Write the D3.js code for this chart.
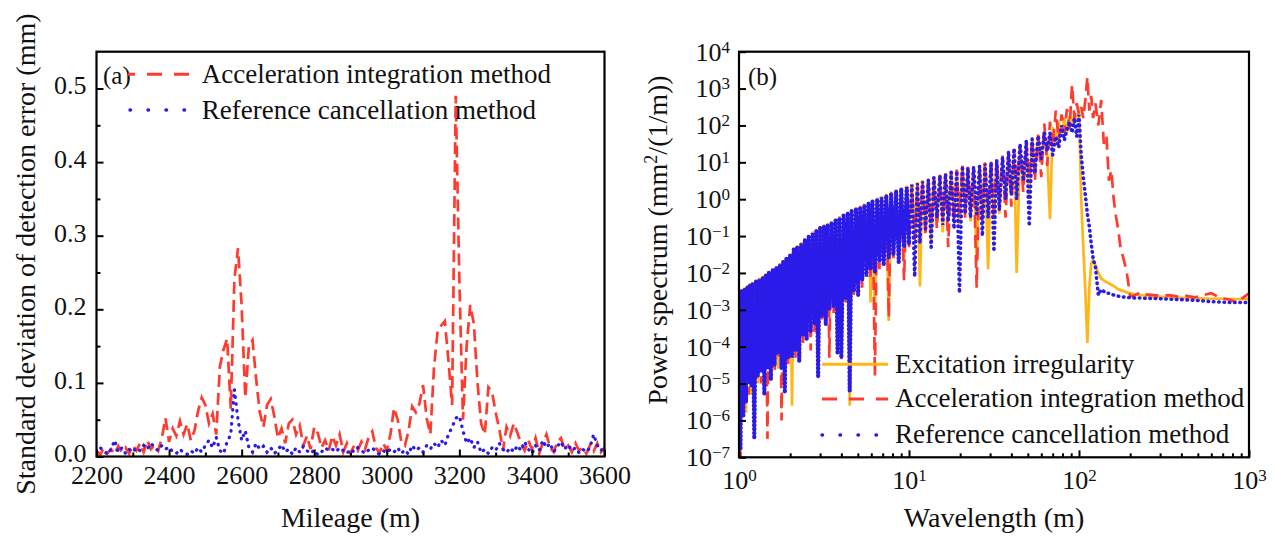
<!DOCTYPE html>
<html>
<head>
<meta charset="utf-8">
<script src="https://cdn.jsdelivr.net/npm/d3@7"></script>
<style>
  body { margin: 0; background: #fff; }
  svg text { font-family: "Liberation Serif", "Times New Roman", serif; fill: #111; }
</style>
</head>
<body>
<div id="chart"></div>
<script>

// ---- panel (a): std of detection error vs mileage (sampled every 10 m) ----
var mileageStart = 2200, mileageEnd = 3600, mileageStep = 10;

var accelStd = [
  0.008,0.002,0.012,0.004,0.010,0.003,0.014,0.006,0.012,0.004,
  0.015,0.008,0.018,0.006,0.022,0.010,0.016,0.008,0.025,0.052,
  0.020,0.038,0.028,0.048,0.030,0.044,0.022,0.035,0.062,0.080,
  0.070,0.045,0.058,0.030,0.122,0.145,0.160,0.065,0.240,0.283,
  0.205,0.080,0.150,0.158,0.105,0.060,0.040,0.070,0.078,0.055,
  0.025,0.038,0.018,0.045,0.050,0.030,0.042,0.015,0.028,0.010,
  0.040,0.032,0.012,0.022,0.008,0.028,0.015,0.030,0.006,0.018,
  0.004,0.015,0.008,0.020,0.010,0.026,0.034,0.012,0.005,0.018,
  0.008,0.030,0.066,0.050,0.020,0.015,0.035,0.068,0.060,0.072,
  0.097,0.052,0.030,0.120,0.170,0.178,0.184,0.130,0.070,0.490,
  0.240,0.050,0.150,0.206,0.180,0.100,0.045,0.030,0.094,0.088,
  0.060,0.038,0.008,0.040,0.028,0.045,0.032,0.018,0.008,0.022,
  0.010,0.025,0.004,0.018,0.030,0.012,0.006,0.020,0.025,0.010,
  0.015,0.006,0.018,0.008,0.012,0.004,0.015,0.007,0.018,0.006,
  0.012
];

var refStd = [
  0.005,0.012,0.008,0.003,0.010,0.022,0.006,0.012,0.004,0.010,
  0.006,0.012,0.008,0.015,0.010,0.018,0.012,0.008,0.015,0.010,
  0.013,0.006,0.004,0.010,0.005,0.003,0.008,0.004,0.012,0.006,
  0.015,0.022,0.012,0.026,0.008,0.004,0.020,0.030,0.091,0.050,
  0.022,0.035,0.012,0.006,0.018,0.010,0.014,0.006,0.012,0.004,
  0.009,0.016,0.006,0.010,0.003,0.012,0.006,0.014,0.008,0.004,
  0.009,0.002,0.006,0.012,0.008,0.010,0.006,0.012,0.008,0.004,
  0.010,0.006,0.012,0.008,0.004,0.009,0.012,0.006,0.003,0.008,
  0.005,0.010,0.006,0.012,0.004,0.009,0.003,0.015,0.008,0.012,
  0.006,0.015,0.010,0.018,0.012,0.022,0.015,0.030,0.040,0.052,
  0.055,0.035,0.018,0.025,0.012,0.020,0.005,0.010,0.004,0.012,
  0.008,0.018,0.010,0.005,0.012,0.006,0.015,0.008,0.020,0.010,
  0.004,0.015,0.008,0.022,0.012,0.018,0.006,0.014,0.020,0.010,
  0.016,0.008,0.012,0.005,0.010,0.006,0.012,0.030,0.015,0.008,
  0.014
];

var yTicksA = [0, 0.1, 0.2, 0.3, 0.4, 0.5];
var xTicksA = [2200, 2400, 2600, 2800, 3000, 3200, 3400, 3600];

// ---- panel (b): power spectra, values stored as log10(mm^2/(1/m)) ----
var wavelength = [
  1.00,1.02,1.04,1.06,1.08,1.10,1.12,1.14,1.16,1.18,1.20,1.23,1.26,1.29,1.32,1.35,1.38,1.41,1.44,1.47,
  1.50,1.54,1.58,1.62,1.66,1.70,1.74,1.78,1.82,1.86,1.90,1.95,2.00,
  2.05,2.10,2.15,2.20,2.26,2.32,2.38,2.44,2.50,2.57,2.64,2.71,2.78,2.85,2.92,3.00,3.08,3.16,3.24,3.32,
  3.40,3.50,3.60,3.70,3.80,3.90,4.00,4.12,4.24,4.36,4.48,4.60,4.74,4.88,5.02,5.16,5.30,5.46,5.62,5.78,
  5.94,6.10,6.30,6.50,6.70,6.90,7.10,7.35,7.60,7.85,8.10,8.40,8.70,9.00,9.35,9.70,10.0,
  10.4,10.8,11.2,11.6,12.0,12.5,13.0,13.5,14.0,14.6,15.2,15.8,16.4,17.0,17.7,18.4,19.1,19.8,20.6,21.4,
  22.2,23.0,24.0,25.0,26.0,27.0,28.0,29.2,30.4,31.6,32.8,34.0,35.5,37.0,38.5,40.0,41.5,43.0,45.0,47.0,
  49.0,51.0,53.0,55.0,57.5,60.0,62.5,65.0,67.5,70.0,73.0,76.0,79.0,82.0,85.0,88.0,91.0,94.0,97.0,100,
  103,106,109,112,115,118,121,125,130,135,140,145,150,155,160,165,170,175,180,190,
  200,215,230,250,275,300,340,380,430,480,540,600,680,760,850,1000
];

var excitationLog = [
  -2.47,-6.0,-2.43,-5.2,-2.39,-5.8,-2.33,-4.9,-2.28,-5.3,-2.24,-4.8,-2.19,-5.0,-2.13,-4.6,-2.07,-4.9,-2.01,-4.5,
  -1.95,-4.7,-1.88,-4.3,-1.81,-4.6,-1.73,-4.2,-1.65,-4.4,-1.57,-4.1,-1.47,
  -5.6,-1.31,-4.0,-1.25,-3.8,-1.16,-3.6,-1.06,-3.7,-0.97,-3.5,-0.88,-3.3,-0.80,-3.4,-0.74,-3.1,-0.68,-3.0,-0.64,
  -3.2,-0.60,-2.8,-0.53,-2.9,-0.46,-2.7,-0.40,-2.6,-0.34,-5.6,-0.28,-2.4,-0.22,-2.3,-0.17,-2.1,-0.12,-2.0,-0.07,
  -2.8,-0.02,-2.9,0.04,-1.6,0.09,-1.7,0.15,-3.3,0.21,-1.4,0.27,-1.3,0.32,-1.6,0.37,-1.1,
  0.42,-0.9,0.46,-2.37,0.51,-0.7,0.56,-1.2,0.61,-0.6,0.66,-0.9,0.71,-0.5,0.75,-0.4,0.79,-0.7,0.89,-0.3,
  0.87,-0.6,0.89,-1.7,0.93,-0.3,0.98,-1.9,1.03,-0.2,1.09,-0.4,1.16,-0.1,1.26,0.2,1.31,-2.0,1.41,0.4,
  1.51,0.1,1.61,0.8,1.71,1.0,1.86,1.2,-0.54,1.95,1.5,2.10,1.7,2.20,1.8,2.25,2.0,2.30,2.1,2.42,
  0.0,-1.3,-2.5,-3.9,-2.4,-1.75,-1.64,-1.8,-2.0,-2.15,-2.2,-2.25,-2.28,-2.32,-2.36,-2.4,-2.44,-2.46,-2.48,-2.52,
  -2.55,-2.58,-2.6,-2.62,-2.64,-2.65,-2.66,-2.67,-2.68,-2.69,-2.69,-2.7,-2.7,-2.71,-2.71,-2.71
];

var accelLog = [
  -2.50,-7.3,-2.45,-5.6,-2.41,-5.2,-2.36,-5.3,-2.31,-4.8,-2.26,-5.4,-2.21,-4.7,-2.15,-5.0,-2.09,-4.6,-2.03,-6.5,
  -1.97,-4.4,-1.90,-4.7,-1.83,-4.3,-1.75,-6.0,-1.67,-4.1,-1.59,-4.5,-1.49,
  -4.1,-1.35,-4.3,-1.28,-4.0,-1.19,-3.9,-1.09,-3.5,-1.00,-4.1,-0.91,-3.6,-0.83,-4.6,-0.77,-3.3,-0.71,-3.2,-0.67,
  -4.3,-0.63,-3.1,-0.56,-2.7,-0.49,-4.4,-0.43,-2.8,-0.37,-3.0,-0.31,-2.6,-0.25,-2.1,-0.20,-2.4,-0.15,-1.8,-0.10,
  -2.1,-0.05,-4.8,0.01,-1.9,0.06,-1.5,0.12,-3.2,0.18,-1.6,0.24,-1.4,0.29,-2.2,0.34,-1.3,
  0.40,-1.1,0.44,-0.6,0.50,-1.0,0.55,-0.9,0.60,-0.8,0.66,-0.5,0.71,-1.3,0.75,-0.6,0.80,-0.4,0.92,-0.5,
  0.88,-0.3,0.90,-2.4,0.95,-0.6,1.00,-0.4,1.05,-0.5,1.10,-0.1,1.18,-0.5,1.28,-0.2,1.35,0.3,1.45,0.2,
  1.55,0.6,1.65,0.5,1.75,0.6,2.05,0.9,2.10,1.4,2.40,1.6,2.30,1.8,2.45,1.9,3.10,2.2,2.60,2.3,
  2.5,2.2,2.7,3.32,2.4,2.8,2.2,2.6,2.0,2.69,1.5,1.7,0.5,0.79,0.0,-0.47,-0.8,-1.28,-1.5,-1.92,
  -2.64,-2.6,-2.52,-2.58,-2.6,-2.62,-2.6,-2.64,-2.62,-2.66,-2.6,-2.55,-2.68,-2.72,-2.8,-2.55
];

var refLog = [
  -2.52,-6.8,-2.48,-5.9,-2.44,-5.5,-2.38,-5.0,-2.33,-5.1,-2.28,-6.5,-2.23,-4.8,-2.17,-4.7,-2.11,-5.3,-2.05,-4.6,
  -1.99,-4.9,-1.92,-4.5,-1.85,-4.2,-1.77,-4.6,-1.69,-5.25,-1.61,-4.3,-1.51,
  -4.3,-1.36,-4.1,-1.29,-4.4,-1.20,-3.7,-1.10,-3.8,-1.01,-3.6,-0.92,-3.4,-0.84,-4.8,-0.78,-3.2,-0.72,-3.4,-0.68,
  -3.0,-0.64,-2.9,-0.57,-4.2,-0.50,-4.3,-0.44,-2.7,-0.38,-5.2,-0.32,-2.5,-0.26,-2.6,-0.21,-2.2,-0.16,-2.1,-0.11,
  -1.9,-0.06,-2.0,0.00,-1.7,0.05,-1.8,0.11,-1.6,0.17,-1.5,0.23,-1.7,0.28,-1.3,0.33,-1.2,
  0.39,-2.1,0.43,-1.2,0.48,-0.8,0.53,-1.3,0.59,-0.5,0.64,-0.7,0.69,-0.6,0.73,-0.8,0.77,-2.54,0.90,-0.4,
  0.85,-0.5,0.87,-0.4,0.90,-1.0,0.96,-0.5,1.00,-1.42,1.06,-0.3,1.14,0.0,1.30,0.1,1.38,0.0,1.50,0.5,
  1.60,-0.73,1.63,0.7,1.72,1.1,1.80,1.3,1.80,1.2,1.70,1.4,2.00,1.6,1.90,2.1,1.80,2.2,1.70,2.29,
  1.2,0.6,0.1,-0.4,-0.74,-1.2,-1.6,-1.85,-2.6,-2.45,-2.5,-2.55,-2.55,-2.58,-2.6,-2.62,-2.63,-2.64,-2.65,-2.66,
  -2.67,-2.68,-2.68,-2.69,-2.69,-2.7,-2.71,-2.72,-2.73,-2.74,-2.76,-2.78,-2.79,-2.8,-2.8,-2.8
];

var xTicksB = [1, 10, 100, 1000];
var yTicksB = [1e-7, 1e-6, 1e-5, 1e-4, 1e-3, 1e-2, 1e-1, 1, 1e1, 1e2, 1e3, 1e4];

var colors = { excitation: "#ffb617", accel: "#ff3a2f", ref: "#2b1be8" };

var svg = d3.select("#chart").append("svg")
    .attr("width", 1277)
    .attr("height", 537);

function styleAxis(g, size) {
    g.attr("font-family", null).attr("font-size", null);
    g.select(".domain").remove();
    g.selectAll(".tick line").attr("stroke", "#000").attr("stroke-width", 2);
    g.selectAll("text").attr("font-size", size).attr("fill", "#111");
}

// "10^n" labels with a raised exponent
function powLabel(d) {
    var e = Math.round(Math.log10(d));
    var t = d3.select(this).text(null);
    t.append("tspan").text("10");
    t.append("tspan").attr("font-size", 17).attr("dy", -8)
        .text(e < 0 ? "\u2212" + (-e) : e);
}

/*
 *  Panel (a)
 */
var pa = { left: 96.5, right: 604.5, top: 51.7, bottom: 456.5 };

var xA = d3.scaleLinear().domain([mileageStart, mileageEnd]).range([pa.left, pa.right]);
var yA = d3.scaleLinear().domain([0, 0.55]).range([pa.bottom, pa.top]);

svg.append("clipPath").attr("id", "clipA").append("rect")
    .attr("x", pa.left).attr("y", pa.top)
    .attr("width", pa.right - pa.left).attr("height", pa.bottom - pa.top);

var lineA = d3.line()
    .x(function(d, i) { return xA(mileageStart + i * mileageStep); })
    .y(function(d) { return yA(d); });

var plotA = svg.append("g").attr("clip-path", "url(#clipA)");

plotA.append("path").datum(accelStd)
    .attr("d", lineA).attr("fill", "none")
    .attr("stroke", colors.accel).attr("stroke-width", 2.7)
    .attr("stroke-dasharray", "12,6");

plotA.append("path").datum(refStd)
    .attr("d", lineA).attr("fill", "none")
    .attr("stroke", colors.ref).attr("stroke-width", 3.2)
    .attr("stroke-linecap", "round")
    .attr("stroke-dasharray", "0.5,6.5");

// axes (ticks inside)
var gxA = svg.append("g").attr("transform", "translate(0," + pa.bottom + ")")
    .call(d3.axisBottom(xA).tickValues(xTicksA).tickSize(-7).tickPadding(9).tickFormat(d3.format("d")));
styleAxis(gxA, 26);

var gxAm = svg.append("g").attr("transform", "translate(0," + pa.bottom + ")")
    .call(d3.axisBottom(xA).tickValues(d3.range(2300, 3600, 200)).tickSize(-4).tickFormat(""));
styleAxis(gxAm, 26);

var gyA = svg.append("g").attr("transform", "translate(" + pa.left + ",0)")
    .call(d3.axisLeft(yA).tickValues(yTicksA).tickSize(-7).tickPadding(10).tickFormat(d3.format(".1f")));
styleAxis(gyA, 26);
gyA.selectAll("text").attr("dy", "0.21em");

var gyAm = svg.append("g").attr("transform", "translate(" + pa.left + ",0)")
    .call(d3.axisLeft(yA).tickValues([0.05, 0.15, 0.25, 0.35, 0.45]).tickSize(-4).tickFormat(""));
styleAxis(gyAm, 26);

svg.append("rect")
    .attr("x", pa.left).attr("y", pa.top)
    .attr("width", pa.right - pa.left).attr("height", pa.bottom - pa.top)
    .attr("fill", "none").attr("stroke", "#000").attr("stroke-width", 2.2);

svg.append("text")
    .attr("x", (pa.left + pa.right) / 2).attr("y", 527)
    .attr("text-anchor", "middle").attr("font-size", 28)
    .text("Mileage (m)");

svg.append("text")
    .attr("transform", "translate(35," + ((pa.top + pa.bottom) / 2) + ") rotate(-90)")
    .attr("text-anchor", "middle").attr("font-size", 28)
    .text("Standard deviation of detection error (mm)");

// legend (a)
svg.append("text").attr("x", 103).attr("y", 84).attr("font-size", 25).text("(a)");

svg.append("line")
    .attr("x1", 128).attr("x2", 198).attr("y1", 74.3).attr("y2", 74.3)
    .attr("stroke", colors.accel).attr("stroke-width", 3)
    .attr("stroke-dasharray", "15,12").attr("stroke-dashoffset", 8);
svg.append("text").attr("x", 201.7).attr("y", 83.3).attr("font-size", 27)
    .text("Acceleration integration method");

svg.append("line")
    .attr("x1", 130).attr("x2", 187).attr("y1", 110).attr("y2", 110)
    .attr("stroke", colors.ref).attr("stroke-width", 3.5)
    .attr("stroke-linecap", "round").attr("stroke-dasharray", "0.5,17.5");
svg.append("text").attr("x", 201.7).attr("y", 119).attr("font-size", 27)
    .text("Reference cancellation method");

/*
 *  Panel (b)
 */
var pb = { left: 739, right: 1249, top: 51.7, bottom: 457.3 };

var xB = d3.scaleLog().domain([1, 1000]).range([pb.left, pb.right]);
var yB = d3.scaleLog().domain([1e-7, 1e4]).range([pb.bottom, pb.top]);

svg.append("clipPath").attr("id", "clipB").append("rect")
    .attr("x", pb.left).attr("y", pb.top)
    .attr("width", pb.right - pb.left).attr("height", pb.bottom - pb.top);

function pairs(logs) {
    return wavelength.map(function(w, i) { return [w, logs[i]]; });
}

var lineB = d3.line()
    .x(function(d) { return xB(d[0]); })
    .y(function(d) { return yB(Math.pow(10, d[1])); });

var plotB = svg.append("g").attr("clip-path", "url(#clipB)");

plotB.append("path").datum(pairs(excitationLog))
    .attr("d", lineB).attr("fill", "none")
    .attr("stroke", colors.excitation).attr("stroke-width", 2.7);

plotB.append("path").datum(pairs(accelLog))
    .attr("d", lineB).attr("fill", "none")
    .attr("stroke", colors.accel).attr("stroke-width", 2.7)
    .attr("stroke-dasharray", "13,7");

// the short-wavelength part is so dense that the dots merge into a solid band
var refPts = pairs(refLog);
var splitAt = wavelength.indexOf(10.0);

plotB.append("path").datum(refPts.slice(0, splitAt + 1))
    .attr("d", lineB).attr("fill", "none")
    .attr("stroke", colors.ref).attr("stroke-width", 4.2)
    .attr("stroke-linecap", "round")
    .attr("stroke-dasharray", "0.5,3.4");

plotB.append("path").datum(refPts.slice(splitAt))
    .attr("d", lineB).attr("fill", "none")
    .attr("stroke", colors.ref).attr("stroke-width", 3.6)
    .attr("stroke-linecap", "round")
    .attr("stroke-dasharray", "0.5,4.8");

var minorB = [];
[1, 10, 100].forEach(function(dec) {
    for (var k = 2; k <= 9; k++) minorB.push(dec * k);
});

var gxB = svg.append("g").attr("transform", "translate(0," + pb.bottom + ")")
    .call(d3.axisBottom(xB).tickValues(xTicksB).tickSize(-7).tickPadding(13.5).tickFormat(function() { return ""; }));
styleAxis(gxB, 26);
gxB.selectAll("text").each(powLabel);

var gxBm = svg.append("g").attr("transform", "translate(0," + pb.bottom + ")")
    .call(d3.axisBottom(xB).tickValues(minorB).tickSize(-4).tickFormat(""));
styleAxis(gxBm, 26);

var gyB = svg.append("g").attr("transform", "translate(" + pb.left + ",0)")
    .call(d3.axisLeft(yB).tickValues(yTicksB).tickSize(-7).tickPadding(9).tickFormat(function() { return ""; }));
styleAxis(gyB, 26);
gyB.selectAll("text").each(powLabel);

svg.append("rect")
    .attr("x", pb.left).attr("y", pb.top)
    .attr("width", pb.right - pb.left).attr("height", pb.bottom - pb.top)
    .attr("fill", "none").attr("stroke", "#000").attr("stroke-width", 2.2);

svg.append("text")
    .attr("x", (pb.left + pb.right) / 2).attr("y", 527)
    .attr("text-anchor", "middle").attr("font-size", 28)
    .text("Wavelength (m)");

var yLabB = svg.append("text")
    .attr("transform", "translate(667,240) rotate(-90)")
    .attr("text-anchor", "middle").attr("font-size", 28);
yLabB.append("tspan").text("Power spectrum (mm");
yLabB.append("tspan").attr("font-size", 18).attr("dy", -10).text("2");
yLabB.append("tspan").attr("dy", 10).text("/(1/m))");

// legend (b)
svg.append("text").attr("x", 748).attr("y", 85).attr("font-size", 25).text("(b)");

var legB = [
    { label: "Excitation irregularity", color: colors.excitation, dash: null, y: 364.3, x2: 888 },
    { label: "Acceleration integration method", color: colors.accel, dash: "15,12", y: 399, x2: 888 },
    { label: "Reference cancellation method", color: colors.ref, dash: "0.5,17.5", y: 435, x2: 878 }
];

legB.forEach(function(d) {
    var dotted = d.dash === "0.5,17.5";
    var ln = svg.append("line")
        .attr("x1", 822).attr("x2", d.x2).attr("y1", d.y).attr("y2", d.y)
        .attr("stroke", d.color).attr("stroke-width", dotted ? 3.5 : 3);
    if (d.dash) ln.attr("stroke-dasharray", d.dash);
    if (dotted) ln.attr("stroke-linecap", "round");
    svg.append("text").attr("x", 895).attr("y", d.y + 8.2).attr("font-size", 27).text(d.label);
});

</script>
</body>
</html>
